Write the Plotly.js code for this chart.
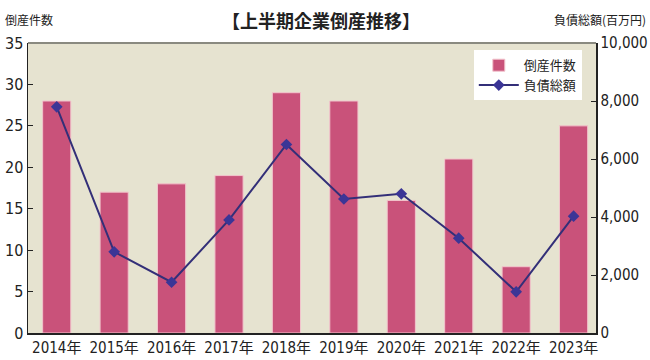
<!DOCTYPE html>
<html><head><meta charset="utf-8">
<script src="https://cdn.plot.ly/plotly-3.0.1.min.js"></script>
<style>body{margin:0;background:#fff}#c{width:650px;height:360px}</style>
</head><body><div id="c"></div>
<script>
const years = ['2014年','2015年','2016年','2017年','2018年','2019年','2020年','2021年','2022年','2023年'];
const counts = [28, 17, 18, 19, 29, 28, 16, 21, 8, 25];
const debts = [7800, 2800, 1750, 3900, 6500, 4620, 4800, 3270, 1420, 4030];
const leftTicks = [0,5,10,15,20,25,30,35];
const rightTicks = [0,2000,4000,6000,8000,10000];
const rightTickText = ['0','2,000','4,000','6,000','8,000','10,000'];

const F = '"DejaVu Sans Condensed", "Liberation Sans Narrow", "Noto Sans CJK JP", sans-serif';
const J = '"Noto Sans CJK JP", sans-serif';
const data = [
  {type:'bar', x:years, y:counts, name:'倒産件数', width:0.49,
   marker:{color:'#c9527a', line:{color:'#f2c4cc', width:1}}},
  {type:'scatter', mode:'lines+markers', x:years, y:debts, name:'負債総額', yaxis:'y2',
   line:{color:'#332f78', width:2}, marker:{symbol:'diamond', size:9, color:'#3b3596'}}
];
const layout = {
  width:650, height:360, margin:{l:28, r:54, t:43, b:27},
  paper_bgcolor:'#fff', plot_bgcolor:'#e6e3d0',
  font:{family:F, size:16, color:'#222'},
  showlegend:true,
  legend:{x:0.975, y:0.975, xanchor:'right', yanchor:'top', bgcolor:'#fff',
    font:{family:J, size:13, color:'#222'}, tracegroupgap:0, itemwidth:40},
  xaxis:{type:'category', range:[-0.5, 9.39], showline:true, linecolor:'#222', linewidth:1.5, ticks:'',
    tickfont:{family:F, size:15}, fixedrange:true},
  yaxis:{range:[0,35], tickvals:leftTicks, showgrid:false, zeroline:false, showline:true, linecolor:'#222', linewidth:1.5,
    ticks:'inside', ticklen:5, tickcolor:'#222', tickfont:{family:F, size:16}},
  yaxis2:{range:[0,10000], overlaying:'y', side:'right', tickvals:rightTicks, ticktext:rightTickText,
    showgrid:false, zeroline:false, showline:true, linecolor:'#222', linewidth:1.5,
    ticks:'inside', ticklen:5, tickcolor:'#222', tickfont:{family:F, size:15}},
  shapes:[{type:'line', xref:'paper', yref:'paper', x0:0, x1:1, y0:1, y1:1, line:{color:'#8a8a80', width:2}}],
  annotations:[
    {text:'【上半期企業倒産推移】', xref:'paper', yref:'paper', x:0.515, y:1, yshift:38, xanchor:'center', yanchor:'top', showarrow:false,
     font:{family:J, size:18, color:'#222', weight:'bold'}},
    {text:'倒産件数', xref:'paper', yref:'paper', x:0, xshift:-25, y:1, yshift:34, xanchor:'left', yanchor:'top', showarrow:false,
     font:{family:J, size:12, color:'#222'}},
    {text:'負債総額(百万円)', xref:'paper', yref:'paper', x:1, xshift:52, y:1, yshift:34, xanchor:'right', yanchor:'top', showarrow:false,
     font:{family:J, size:12, color:'#222'}}
  ]
};
Plotly.newPlot('c', data, layout, {staticPlot:true});
</script></body></html>
